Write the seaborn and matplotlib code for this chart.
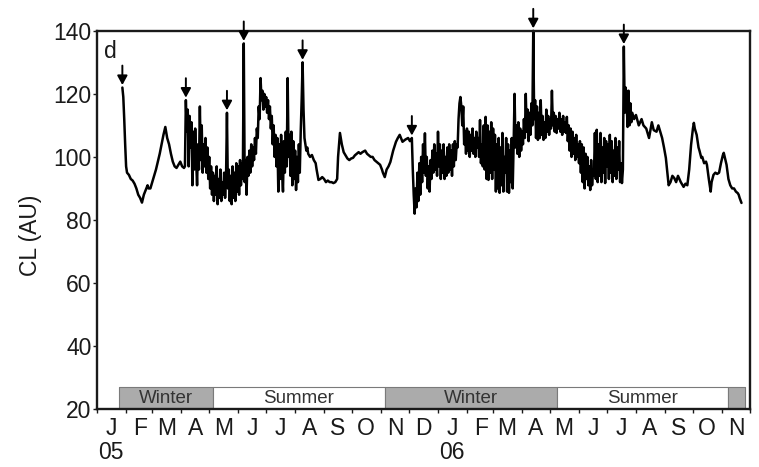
import pandas as pd
import matplotlib
matplotlib.use("Agg")
import matplotlib.pyplot as plt
import matplotlib.dates as mdates
from matplotlib.ticker import FuncFormatter, NullFormatter
import seaborn as sns

# ---------------------------------------------------------------- data
start = pd.Timestamp("2005-01-01")

# sample day (days since 1 Jan 2005) and CL value in arbitrary units
day = [
    27, 28, 29, 30, 31, 32, 34, 36, 38, 40, 42, 44, 46, 48, 50, 52, 54, 55,
    57, 59, 61, 63, 65, 67, 69, 71, 73, 75, 77, 79, 81, 83, 85, 87, 89, 91, 93,
    94, 95, 96, 97, 98, 99, 100, 101, 102, 103,
    104, 105, 106, 107, 108, 109, 110, 111, 112, 113,
    114, 115, 116, 117, 118, 119, 120, 121, 122, 123,
    124, 125, 126, 127, 128, 129, 130, 131, 132, 133,
    134, 135, 136, 137, 138, 139, 140, 141, 142, 143,
    144, 145, 146, 147, 148, 149, 150, 151, 152, 153,
    154, 155, 156, 157, 158, 159, 160, 161, 162, 163,
    164, 165, 166, 167, 168, 169, 170, 171, 172, 173,
    174, 175, 176, 177, 178, 179, 180, 181, 182, 183,
    184, 185, 186, 187, 188, 189, 190, 191, 192, 193,
    194, 195, 196, 197, 198, 199, 200, 201, 202, 203,
    204, 205, 206, 207, 208, 209, 210, 211, 212, 213,
    214, 215, 216, 217, 218, 219, 220, 221, 222, 223,
    224, 225,
    226, 228, 230, 232, 234, 235, 237, 239, 241, 243, 245, 247, 249, 251,
    253, 255, 257, 258, 260, 262, 264, 266, 268, 270, 272, 274, 276, 278,
    280, 282, 284, 287, 289, 291, 293, 295, 297, 299, 301, 303, 305, 306,
    308, 310, 312, 314, 317, 320, 322, 324, 326, 327, 330, 333, 335, 337,
    338, 339, 340, 341, 342, 343, 344, 345, 346, 347,
    348, 349, 350, 351, 352, 353, 354, 355, 356, 357,
    358, 359, 360, 361, 362, 363, 364, 365, 366, 367,
    368, 369, 370, 371, 372, 373, 374, 375, 376, 377,
    378, 379, 380, 381, 382, 383, 384, 385, 386, 387,
    388, 389, 390, 391, 392, 393, 394, 395, 396, 397,
    398, 399, 400, 401, 402, 403, 404, 405, 406, 407,
    408, 409, 410, 411, 412, 413, 414, 415, 416, 417,
    418, 419, 420, 421, 422, 423, 424, 425, 426, 427,
    428, 429, 430, 431, 432, 433, 434, 435, 436, 437,
    438, 439, 440, 441, 442, 443, 444, 445, 446, 447,
    448, 449, 450, 451, 452, 453, 454, 455, 456, 457,
    458, 459, 460, 461, 462, 463, 464, 465, 466, 467,
    468, 469, 470, 471, 472, 473, 474, 475, 476, 477,
    478, 479, 480, 481, 482, 483, 484, 485, 486, 487,
    488, 489, 490, 491, 492, 493, 494, 495, 496, 497,
    498, 499, 500, 501, 502, 503, 504, 505, 506, 507,
    508, 509, 510, 511, 512, 513, 514, 515, 516, 517,
    518, 519, 520, 521, 522, 523, 524, 525, 526, 527,
    528, 529, 530, 531, 532, 533, 534, 535, 536, 537,
    538, 539, 540, 541, 542, 543, 544, 545, 546, 547,
    548, 549, 550, 551, 552, 553, 554, 555, 556, 557,
    558, 559, 560, 561, 562, 563, 564, 565, 566, 567,
    568, 569, 570, 571, 572, 573,
    575, 577, 580, 583, 585, 588, 591, 594, 596, 599, 601, 603, 605, 607,
    609, 612, 614, 616, 618, 620, 622, 625, 628, 630, 632, 634, 636, 638,
    639, 640, 642, 644, 645, 647, 648, 650, 652, 653, 655, 657, 658, 660,
    662, 664, 666, 668, 670, 671, 672, 674, 676, 678, 680, 682, 684, 686,
    687, 688, 690,
]
cl = [
    122, 119, 112, 104, 97, 95, 94.3, 93, 92.5, 91.5, 90, 88, 87, 85.5, 88, 89.5, 91, 90,
    90, 92, 94, 96, 98.5, 101, 104, 107, 109.5, 106, 104, 101, 98.5, 97, 96.5, 97.5, 98.5, 97, 96.5,
    97, 118, 108, 115, 97, 113, 103, 111, 91, 108,
    96, 109, 99, 91, 104, 96, 116, 99, 110, 95,
    104, 97, 106, 95, 103, 93, 100, 90, 97, 88,
    95, 86, 94, 88, 97, 85, 93, 87, 96, 86,
    92, 88, 95, 87, 93, 114, 90, 96, 86, 94,
    85, 97, 87, 95, 86, 98, 89, 97, 88, 99,
    91, 98, 93, 136, 92, 99, 88, 100, 94, 102,
    95, 104, 97, 103, 99, 106, 101, 109, 106, 116,
    112, 125, 118, 121, 115, 120, 116, 119, 114, 118,
    112, 116, 109, 113, 104, 110, 100, 107, 97, 106,
    89, 104, 93, 107, 96, 89, 105, 95, 108, 97,
    125, 100, 107, 94, 108, 91, 105, 93, 102, 89.5,
    100, 92, 104, 95, 108, 118, 130, 115, 106, 104,
    102, 103,
    101, 100, 100.6, 99, 98, 96, 92.7, 93, 93.6, 93, 92, 92.5, 92, 92,
    91.7, 92, 93, 100, 107.6, 104, 101.5, 100.5, 99.5, 99, 99.5, 99.7, 100.5, 101,
    101.5, 101, 101.5, 102, 101, 100.5, 100, 100, 99, 98.5, 98, 97.5, 96, 95,
    93.6, 96, 97, 98.4, 102, 104.8, 106, 107, 105.5, 104.8, 105.5, 106, 105, 106,
    96, 88, 82, 90, 84, 95, 86, 98, 88, 100,
    92, 104, 95, 107.5, 94, 100, 90, 97, 89, 99,
    93, 102, 95, 104, 96, 101, 94, 108, 97, 104,
    93, 102, 95, 104, 93, 100, 94, 103, 95, 104,
    96, 102, 94, 104, 97, 105, 99, 104, 103, 112,
    117, 119, 116, 110, 116, 104, 108, 101, 109, 102,
    108, 100, 107, 102, 109, 101, 106, 100, 108, 103,
    106, 100, 111.7, 98, 104, 97, 110, 96, 112.7, 93,
    110, 92.7, 108, 95, 111, 93, 109, 96, 107, 89,
    104, 90, 106, 88.6, 103, 91, 107.6, 89, 100, 95,
    106, 89, 104, 88.6, 102, 92, 106, 90, 104, 120,
    103, 110, 101, 111, 100, 109, 102, 108, 104, 112,
    106, 120, 108, 115, 105, 114, 107, 117, 110, 140,
    112, 118, 106, 116, 105.4, 114, 106, 118, 107, 113,
    105.4, 111, 106, 115, 108, 113, 107, 112, 109, 121,
    110, 114, 108, 113, 107.6, 112, 109, 114, 108, 112,
    107, 113, 108, 111, 107.6, 112.7, 105, 110, 102, 109,
    100, 108, 101, 106, 99, 107, 100, 104, 98, 105,
    95, 104, 92, 103, 90, 101, 93, 100, 91, 97,
    89.5, 99, 91, 96, 94, 107.6, 93, 108.6, 92, 104,
    94, 107.6, 92, 103, 95, 106, 91.7, 105, 97, 104,
    93, 107, 95, 105, 92, 102, 94, 106, 93, 103,
    96, 105, 92, 98, 91.7, 96, 135, 114, 122, 118,
    109.5, 121, 110, 117, 111, 114,
    112, 113.3, 110, 112, 110, 109, 106, 111, 108.5, 108, 110, 108, 106, 103,
    99.7, 91, 92, 94, 93.3, 92, 94, 92, 90.5, 91.5, 91, 96, 103.8, 109,
    110.8, 109, 107, 103, 102, 99.7, 100, 98, 98.5, 97.5, 93, 89, 92, 94.3,
    95, 94.6, 95, 98, 100.5, 101.3, 100, 97.5, 93, 91, 90, 90, 89, 88.5,
    88, 87, 85.4,
]
assert len(day) == len(cl)

# days marked with an arrow
peak_days = [27, 95, 139, 157, 220, 337, 467, 564]

# season band along the bottom of the panel
season_names = ["Winter", "Summer", "Winter", "Summer", ""]
season_start = ["2005-01-24", "2005-05-05", "2005-11-05", "2006-05-08", "2006-11-08"]
season_end = ["2005-05-05", "2005-11-05", "2006-05-08", "2006-11-08", "2006-11-26"]
season_fill = ["#ababab", "#ffffff", "#ababab", "#ffffff", "#ababab"]

month_letters = list("JFMAMJJASOND")
y_ticks = [20, 40, 60, 80, 100, 120, 140]

# ---------------------------------------------------------------- style
sns.set_style("ticks")
plt.rcParams["font.family"] = ["Liberation Sans", "DejaVu Sans"]
ink = "#1a1a1a"

df = pd.DataFrame({"date": start + pd.to_timedelta(day, unit="D"), "cl": cl})

fig = plt.figure(figsize=(7.59, 4.67), dpi=100)
ax = fig.add_axes([0.128, 0.124, 0.860, 0.810])

sns.lineplot(data=df, x="date", y="cl", ax=ax, color="black", lw=1.8,
             estimator=None, sort=True)
for ln in ax.get_lines():
    ln.set_clip_on(False)
    ln.set_solid_joinstyle("round")

# arrows above the marked peaks
lookup = dict(zip(day, cl))
for d in peak_days:
    xnum = mdates.date2num(start + pd.Timedelta(days=d))
    ax.annotate("", xy=(xnum, lookup[d] + 0.8), xytext=(0, 14),
                textcoords="offset points", annotation_clip=False,
                arrowprops=dict(arrowstyle="-|>,head_length=0.55,head_width=0.3",
                                color="black", lw=1.4, mutation_scale=10,
                                shrinkA=0, shrinkB=0))

# season band
for name, s0, s1, fc in zip(season_names, season_start, season_end, season_fill):
    x0 = mdates.date2num(pd.Timestamp(s0))
    x1 = mdates.date2num(pd.Timestamp(s1))
    ax.broken_barh([(x0, x1 - x0)], (20, 7), facecolors=fc,
                   edgecolors="#7a7a7a", linewidth=0.8, zorder=1)
    if name:
        ax.text((x0 + x1) / 2, 23.3, name, ha="center", va="center",
                fontsize=13.5, color="#333333", zorder=2)

# axes limits and ticks
ax.set_xlim(mdates.date2num(pd.Timestamp("2005-01-01")),
            mdates.date2num(pd.Timestamp("2006-12-01")))
ax.set_ylim(20, 140)
ax.set_yticks(y_ticks)

ax.xaxis.set_major_locator(mdates.MonthLocator())
ax.xaxis.set_major_formatter(NullFormatter())
ax.xaxis.set_minor_locator(mdates.MonthLocator(bymonthday=16))


def month_label(x, pos=None):
    d = mdates.num2date(x)
    s = month_letters[d.month - 1]
    if d.month == 1:
        s += "\n%02d" % (d.year % 100)
    return s


ax.xaxis.set_minor_formatter(FuncFormatter(month_label))
ax.tick_params(axis="x", which="major", direction="out", length=3, width=1,
               color=ink)
ax.tick_params(axis="x", which="minor", length=0, pad=6, labelsize=16.5,
               labelcolor=ink)
ax.tick_params(axis="y", direction="out", length=3, width=1, pad=1,
               labelsize=16.5, labelcolor=ink, color=ink)
for lab in ax.xaxis.get_minorticklabels():
    lab.set_linespacing(1.05)

for side in ["left", "right", "top", "bottom"]:
    ax.spines[side].set_visible(True)
    ax.spines[side].set_linewidth(1.7)
    ax.spines[side].set_color(ink)

ax.set_xlabel("")
ax.set_ylabel("CL (AU)", fontsize=16.5, color=ink)
ax.yaxis.set_label_coords(-0.085, 0.46)

ax.text(0.01, 0.975, "d", transform=ax.transAxes, ha="left", va="top",
        fontsize=16.5, color=ink)

fig.savefig("out.png", dpi=100)
